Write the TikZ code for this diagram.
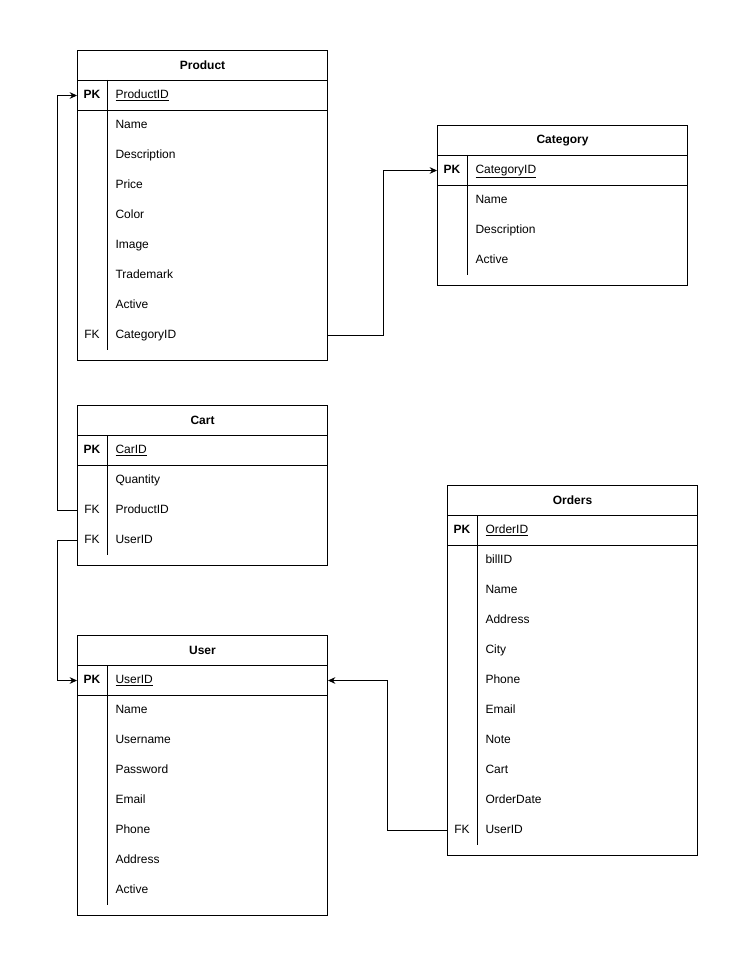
\documentclass[tikz,border=0pt]{standalone}
\usepackage{fontspec}
\setmainfont{Liberation Sans}
\usetikzlibrary{arrows.meta}
\tikzset{
  tbl/.style = {draw, anchor=north west, minimum width=187.5pt, inner sep=0pt},
  hdr/.style = {draw, anchor=north west, minimum width=187.5pt, minimum height=22.5pt, inner sep=0pt, font=\fontsize{9}{11}\selectfont\bfseries},
  pkrow/.style = {draw, anchor=north west, minimum width=187.5pt, minimum height=22.5pt, inner sep=0pt},
  keyl/.style = {inner sep=0pt, text height=6.6pt, text depth=1.9pt},
  pkl/.style = {keyl, font=\fontsize{9}{11}\selectfont\bfseries},
  fld/.style = {anchor=west, inner sep=0pt, text height=6.6pt, text depth=1.9pt},
  rel/.style = {-{Stealth[length=5.5pt,width=5pt]}}
}
\begin{document}
\begin{tikzpicture}[x=0.75pt, y=-0.75pt, line width=0.75pt, font=\fontsize{9}{11}\selectfont]
\useasboundingbox (0,0) rectangle (748,966);

% Product
\node[tbl, minimum height=232.5pt] (product) at (77,50) {};
\node[hdr] (product-h) at (77,50) {Product};
\node[pkrow] (product-pk) at (77,80) {};
\node[pkl] (product-k0) at (92,95) {PK};
\node[fld] (product-f0) at (115,95) {\underline{ProductID}};
\foreach \t [count=\i] in {Name,Description,Price,Color,Image,Trademark,Active,CategoryID}
  \node[fld] (product-f\i) at (115,{95+30*\i}) {\t};
\node[keyl] (product-k8) at (92,335) {FK};
\draw (107,80) -- (107,350);

% Category
\node[tbl, minimum height=120pt] (category) at (437,125) {};
\node[hdr] (category-h) at (437,125) {Category};
\node[pkrow] (category-pk) at (437,155) {};
\node[pkl] (category-k0) at (452,170) {PK};
\node[fld] (category-f0) at (475,170) {\underline{CategoryID}};
\foreach \t [count=\i] in {Name,Description,Active}
  \node[fld] (category-f\i) at (475,{170+30*\i}) {\t};
\draw (467,155) -- (467,275);

% Cart
\node[tbl, minimum height=120pt] (cart) at (77,405) {};
\node[hdr] (cart-h) at (77,405) {Cart};
\node[pkrow] (cart-pk) at (77,435) {};
\node[pkl] (cart-k0) at (92,450) {PK};
\node[fld] (cart-f0) at (115,450) {\underline{CarID}};
\foreach \t [count=\i] in {Quantity,ProductID,UserID}
  \node[fld] (cart-f\i) at (115,{450+30*\i}) {\t};
\node[keyl] (cart-k2) at (92,510) {FK};
\node[keyl] (cart-k3) at (92,540) {FK};
\draw (107,435) -- (107,555);

% User
\node[tbl, minimum height=210pt] (user) at (77,635) {};
\node[hdr] (user-h) at (77,635) {User};
\node[pkrow] (user-pk) at (77,665) {};
\node[pkl] (user-k0) at (92,680) {PK};
\node[fld] (user-f0) at (115,680) {\underline{UserID}};
\foreach \t [count=\i] in {Name,Username,Password,Email,Phone,Address,Active}
  \node[fld] (user-f\i) at (115,{680+30*\i}) {\t};
\draw (107,665) -- (107,905);

% Orders
\node[tbl, minimum height=277.5pt] (orders) at (447,485) {};
\node[hdr] (orders-h) at (447,485) {Orders};
\node[pkrow] (orders-pk) at (447,515) {};
\node[pkl] (orders-k0) at (462,530) {PK};
\node[fld] (orders-f0) at (485,530) {\underline{OrderID}};
\foreach \t [count=\i] in {billID,Name,Address,City,Phone,Email,Note,Cart,OrderDate,UserID}
  \node[fld] (orders-f\i) at (485,{530+30*\i}) {\t};
\node[keyl] (orders-k10) at (462,830) {FK};
\draw (477,515) -- (477,845);

% relations
\draw[rel] (product.east |- product-f8) -- ++(55,0) |- (category-pk.west);
\draw[rel] (cart.west |- cart-f2) -- ++(-20,0) |- (product-pk.west);
\draw[rel] (cart.west |- cart-f3) -- ++(-20,0) |- (user-pk.west);
\draw[rel] (orders.west |- orders-f10) -- ++(-60,0) |- (user-pk.east);
\end{tikzpicture}
\end{document}
